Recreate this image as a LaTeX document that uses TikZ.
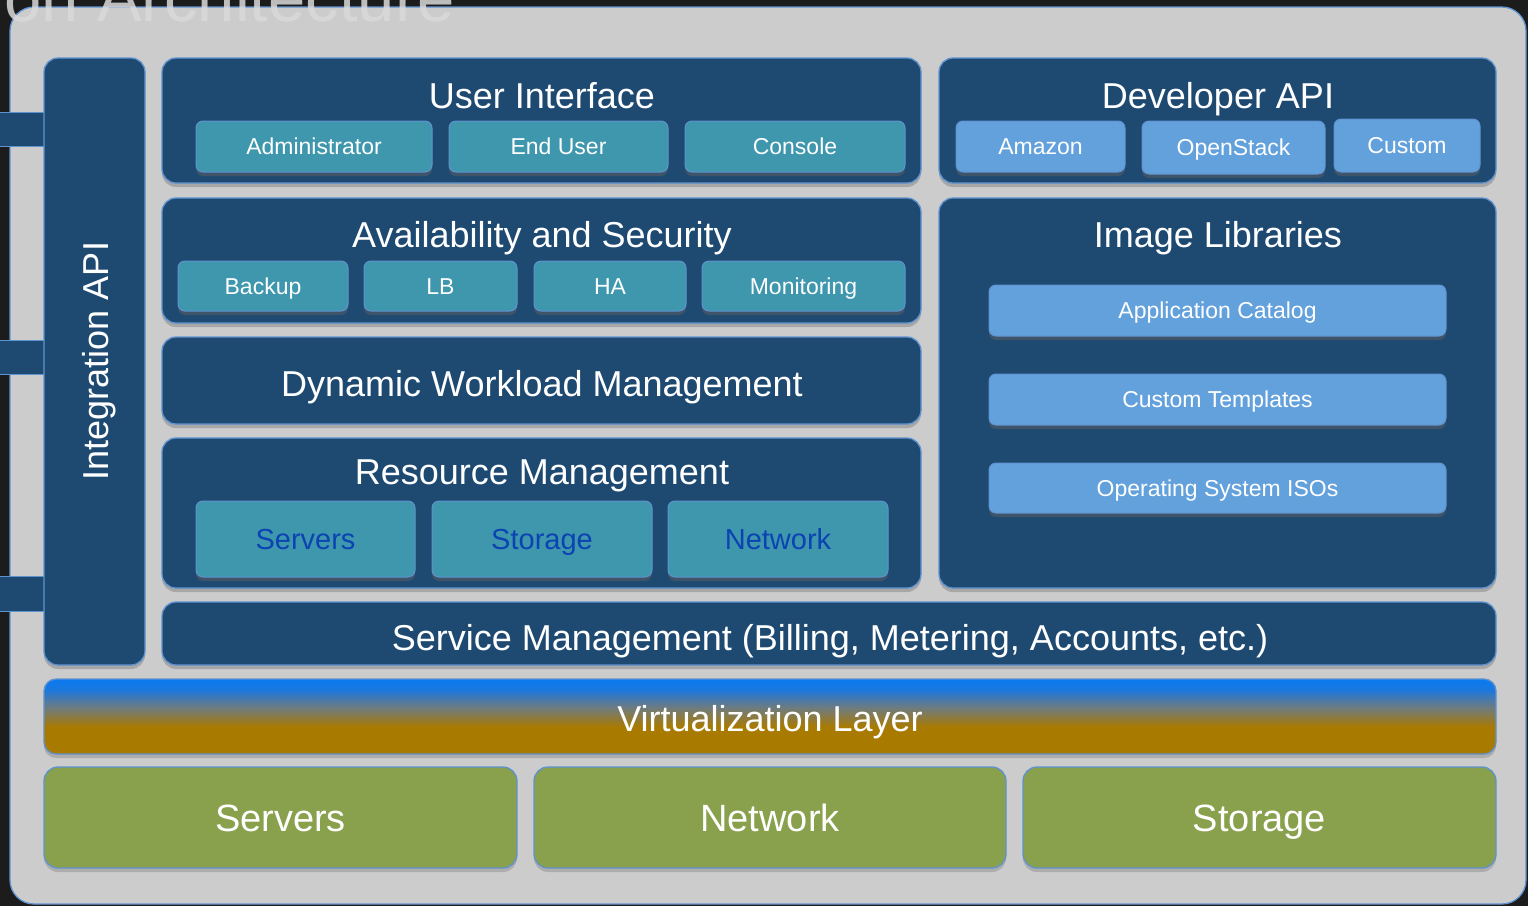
\documentclass[tikz,border=0pt]{standalone}
\usepackage{fontspec}
\setmainfont{Liberation Sans}
\usetikzlibrary{shadows}
\definecolor{bgdark}{HTML}{1C1C1C}
\definecolor{panelgray}{HTML}{CCCCCC}
\definecolor{edgeblue}{HTML}{5F93D0}
\definecolor{dblue}{HTML}{1E4A72}
\definecolor{teal}{HTML}{3E97AD}
\definecolor{lblue}{HTML}{63A1DC}
\definecolor{green}{HTML}{89A04C}
\definecolor{btnshadow}{HTML}{3F5468}
\definecolor{rmtext}{HTML}{0B43B3}
\definecolor{vorange}{HTML}{A97A00}
\definecolor{vmid}{HTML}{6E7B80}
\definecolor{vblue}{HTML}{1A78DF}
\definecolor{vtop}{HTML}{0A7AF0}
\definecolor{titlegray}{HTML}{DADADA}
\pgfdeclareverticalshading{virt}{100bp}{color(0bp)=(vorange); color(25bp)=(vorange); color(43bp)=(vorange); color(56bp)=(vmid); color(68bp)=(vblue); color(75bp)=(vtop); color(100bp)=(vtop)}
\newcommand{\fs}[1]{\fontsize{#1}{#1}\selectfont}
\newcommand{\mkbox}[7]{\node[#1, minimum width={#4-#2}, minimum height={#5-#3}] (#6) at ({(#2+#4)/2},{(#3+#5)/2}) {#7};}
\tikzset{
  panel/.style={draw=edgeblue, line width=1.3pt, fill=dblue, rounded corners=14pt, inner sep=0pt,
    drop shadow={shadow xshift=0pt, shadow yshift=-4pt, fill=black, opacity=0.18}},
  btnbase/.style={draw=edgeblue, line width=1pt, rounded corners=7pt, inner sep=0pt, text=white,
    text depth=0pt,
    drop shadow={shadow xshift=0pt, shadow yshift=-4pt, fill=btnshadow, opacity=1}},
  tealbtn/.style={btnbase, fill=teal, font=\fs{23}, text height=16.5pt},
  bluebtn/.style={btnbase, fill=lblue, font=\fs{23}, text height=16.5pt},
  rmbtn/.style={btnbase, fill=teal, font=\fs{29}, text=rmtext, text height=20.8pt},
  title/.style={anchor=base, text=white, font=\fs{36}, inner sep=0pt},
  hwbox/.style={draw=edgeblue, line width=1.3pt, fill=green, rounded corners=14pt, inner sep=0pt,
    text=white, font=\fs{38}, text height=27.2pt, text depth=0pt,
    drop shadow={shadow xshift=0pt, shadow yshift=-4pt, fill=black, opacity=0.15}},
  tab/.style={draw=edgeblue, line width=1pt, fill=dblue, inner sep=0pt}
}
\begin{document}
\begin{tikzpicture}[x=1pt, y=-1pt]
\useasboundingbox (0,0) rectangle (1528,906);
\begin{scope}
\clip (0,0) rectangle (1528,906);
% dark background
\fill[bgdark] (0,0) rectangle (1528,906);
% light panel
\node[draw=edgeblue, line width=1.3pt, fill=panelgray, rounded corners=24pt, inner sep=0pt,
  minimum width=1516pt, minimum height=897pt] (bgpanel) at (768,455.5) {};
% cut title
\node[anchor=base east, text=titlegray, font=\fs{67}, inner sep=0pt, opacity=0.85] (cuttitle) at (455,21) {on Architecture};
% left tabs
\mkbox{tab}{-2}{112}{46}{146}{tab1}{}
\mkbox{tab}{-2}{340}{46}{374}{tab2}{}
\mkbox{tab}{-2}{576}{46}{611}{tab3}{}
% integration API
\mkbox{panel}{44}{58}{145}{665}{intapi}{}
\node[text=white, font=\fs{36}, rotate=90, anchor=base, inner sep=0pt] (intapiT) at (108,361) {Integration API};
% user interface
\mkbox{panel}{162}{58}{921}{183}{ui}{}
\node[title] (uiT) at (542,108) {User Interface};
\mkbox{tealbtn}{196}{121}{432}{172}{admin}{Administrator}
\mkbox{tealbtn}{449}{121}{668}{172}{enduser}{End User}
\mkbox{tealbtn}{685}{121}{905}{172}{console}{Console}
% developer API
\mkbox{panel}{939}{58}{1496}{183}{devapi}{}
\node[title] (devapiT) at (1218,108) {Developer API};
\mkbox{bluebtn}{956}{121}{1125}{172}{amazon}{Amazon}
\mkbox{bluebtn}{1142}{121}{1325}{174}{openstack}{OpenStack}
\mkbox{bluebtn}{1334}{119}{1480}{172}{custom}{Custom}
% availability and security
\mkbox{panel}{162}{198}{921}{323}{avsec}{}
\node[title] (avsecT) at (542,247) {Availability and Security};
\mkbox{tealbtn}{178}{261}{348}{311}{backup}{Backup}
\mkbox{tealbtn}{364}{261}{517}{311}{lb}{LB}
\mkbox{tealbtn}{534}{261}{686}{311}{ha}{HA}
\mkbox{tealbtn}{702}{261}{905}{311}{monitoring}{Monitoring}
% image libraries
\mkbox{panel}{939}{198}{1496}{588}{imglib}{}
\node[title] (imglibT) at (1218,247) {Image Libraries};
\mkbox{bluebtn}{989}{285}{1446}{336}{appcat}{Application Catalog}
\mkbox{bluebtn}{989}{374}{1446}{425}{custtpl}{Custom Templates}
\mkbox{bluebtn}{989}{463}{1446}{513}{osiso}{Operating System ISOs}
% dynamic workload management
\mkbox{panel}{162}{337}{921}{424}{dwm}{}
\node[title] (dwmT) at (542,396) {Dynamic Workload Management};
% resource management
\mkbox{panel}{162}{438}{921}{588}{resmgmt}{}
\node[title] (resmgmtT) at (542,484) {Resource Management};
\mkbox{rmbtn}{196}{501}{415}{577}{rmservers}{Servers}
\mkbox{rmbtn}{432}{501}{652}{577}{rmstorage}{Storage}
\mkbox{rmbtn}{668}{501}{888}{577}{rmnetwork}{Network}
% service management
\mkbox{panel}{162}{602}{1496}{665}{svcmgmt}{}
\node[title] (svcmgmtT) at (830,650) {Service Management (Billing, Metering, Accounts, etc.)};
% virtualization layer
\node[draw=edgeblue, line width=1.3pt, shading=virt, rounded corners=12pt, inner sep=0pt,
  minimum width=1452pt, minimum height=75pt,
  drop shadow={shadow xshift=0pt, shadow yshift=-4pt, fill=black, opacity=0.15}] (virt) at (770,716.5) {};
\node[title] (virtT) at (770,731) {Virtualization Layer};
% hardware
\mkbox{hwbox}{44}{767}{517}{868}{hwservers}{Servers}
\mkbox{hwbox}{534}{767}{1006}{868}{hwnetwork}{Network}
\mkbox{hwbox}{1023}{767}{1496}{868}{hwstorage}{Storage}
\end{scope}
\end{tikzpicture}
\end{document}
